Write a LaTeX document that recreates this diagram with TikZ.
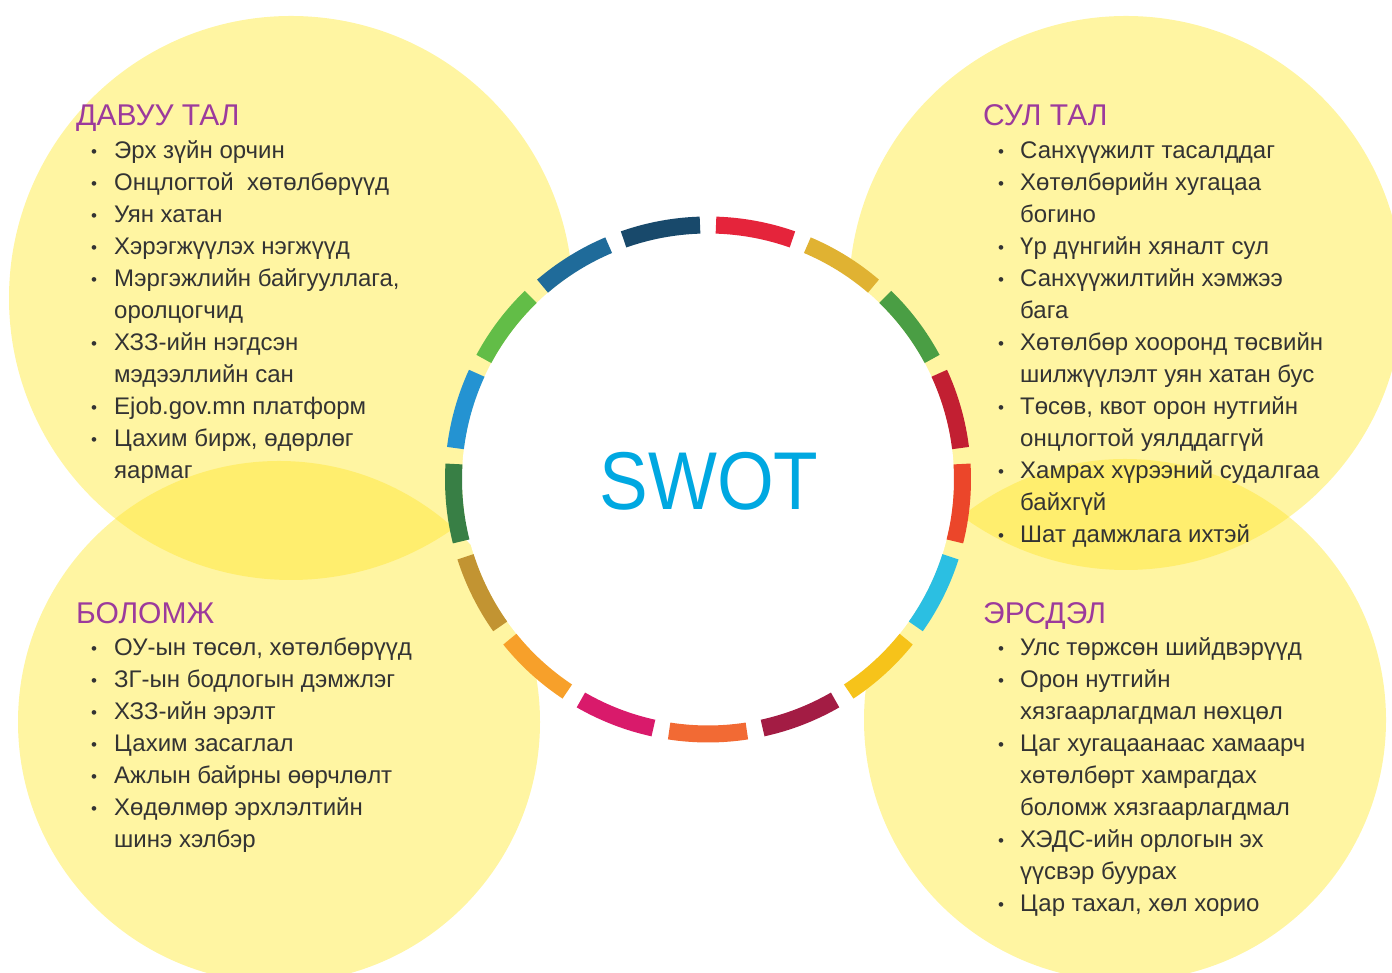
\documentclass[tikz,border=0pt]{standalone}
\usepackage{fontspec}
\usepackage{graphicx}
\setmainfont{Liberation Sans}
\definecolor{yel}{HTML}{FFF5A2}
\definecolor{yeldark}{HTML}{FFEE6E}
\definecolor{txtc}{HTML}{333333}
\definecolor{headc}{HTML}{9C3A9C}
\definecolor{swotc}{HTML}{00A8E1}
\definecolor{sdg1}{HTML}{E5243B}
\definecolor{sdg2}{HTML}{E0B232}
\definecolor{sdg3}{HTML}{4A9E44}
\definecolor{sdg4}{HTML}{C21F32}
\definecolor{sdg5}{HTML}{EB462A}
\definecolor{sdg6}{HTML}{2BBFE2}
\definecolor{sdg7}{HTML}{F6C31A}
\definecolor{sdg8}{HTML}{A31C44}
\definecolor{sdg9}{HTML}{F26A34}
\definecolor{sdg10}{HTML}{D91A6B}
\definecolor{sdg11}{HTML}{F7A02A}
\definecolor{sdg12}{HTML}{C29432}
\definecolor{sdg13}{HTML}{387F45}
\definecolor{sdg14}{HTML}{2493D2}
\definecolor{sdg15}{HTML}{62BD47}
\definecolor{sdg16}{HTML}{1F6B9A}
\definecolor{sdg17}{HTML}{18496B}
\begin{document}
\begin{tikzpicture}[x=1pt,y=1pt,
  head/.style={anchor=base west, inner sep=0pt, text=headc, font=\fontsize{30}{30}\selectfont},
  itemtxt/.style={anchor=base west, inner sep=0pt, text=txtc, font=\fontsize{24}{24}\selectfont},
  bul/.style={anchor=base, inner sep=0pt, text=txtc, font=\fontsize{17}{17}\selectfont},
  segment/.style={line width=17pt}
]
\useasboundingbox (0,0) rectangle (1392,973);
\coordinate (tl) at (291,675);
\coordinate (bl) at (279,251);
\coordinate (tr) at (1126,680);
\coordinate (br) at (1125,253);
\coordinate (c) at (708,493.5);
% circles
\fill[yel] (tl) circle[radius=282pt];
\fill[yel] (bl) circle[radius=261pt];
\fill[yel] (tr) circle[radius=277pt];
\fill[yel] (br) circle[radius=261pt];
\begin{scope}
  \clip (tl) circle[radius=282pt];
  \fill[yeldark] (bl) circle[radius=261pt];
\end{scope}
\begin{scope}
  \clip (tr) circle[radius=277pt];
  \fill[yeldark] (br) circle[radius=261pt];
\end{scope}
% white disc
\fill[white] (c) circle[radius=246pt];
% ring
\foreach \i in {1,...,17}{
  \pgfmathsetmacro\aa{90-(\i-1)*360/17-1.8}
  \pgfmathsetmacro\ab{90-\i*360/17+1.8}
  \draw[segment, draw=sdg\i] ([shift={(c)}]\aa:254.5pt) arc[start angle=\aa, end angle=\ab, radius=254.5pt];
}
\node[text=swotc, font=\fontsize{82}{82}\selectfont, inner sep=0pt] (swot) at (709,492) {\scalebox{0.89}[1]{SWOT}};
% headings
\node[head] (hS) at (76,847) {ДАВУУ ТАЛ};
\node[head] (hW) at (983,847) {СУЛ ТАЛ};
\node[head] (hO) at (76,349) {БОЛОМЖ};
\node[head] (hT) at (983,349) {ЭРСДЭЛ};
% strengths
\node[bul] (sb1) at (94,815) {•}; \node[itemtxt] (s1) at (114,814) {Эрх зүйн орчин};
\node[bul] (sb2) at (94,783) {•}; \node[itemtxt] (s2) at (114,782) {Онцлогтой~ хөтөлбөрүүд};
\node[bul] (sb3) at (94,751) {•}; \node[itemtxt] (s3) at (114,750) {Уян хатан};
\node[bul] (sb4) at (94,719) {•}; \node[itemtxt] (s4) at (114,718) {Хэрэгжүүлэх нэгжүүд};
\node[bul] (sb5) at (94,687) {•}; \node[itemtxt] (s5) at (114,686) {Мэргэжлийн байгууллага,};
\node[itemtxt] (s6) at (114,654) {оролцогчид};
\node[bul] (sb7) at (94,623) {•}; \node[itemtxt] (s7) at (114,622) {ХЗЗ-ийн нэгдсэн};
\node[itemtxt] (s8) at (114,590) {мэдээллийн сан};
\node[bul] (sb9) at (94,559) {•}; \node[itemtxt] (s9) at (114,558) {Ejob.gov.mn платформ};
\node[bul] (sb10) at (94,527) {•}; \node[itemtxt] (s10) at (114,526) {Цахим бирж, өдөрлөг};
\node[itemtxt] (s11) at (114,494) {яармаг};
% weaknesses
\node[bul] (wb1) at (1001,815) {•}; \node[itemtxt] (w1) at (1020,814) {Санхүүжилт тасалддаг};
\node[bul] (wb2) at (1001,783) {•}; \node[itemtxt] (w2) at (1020,782) {Хөтөлбөрийн хугацаа};
\node[itemtxt] (w3) at (1020,750) {богино};
\node[bul] (wb4) at (1001,719) {•}; \node[itemtxt] (w4) at (1020,718) {Үр дүнгийн хяналт сул};
\node[bul] (wb5) at (1001,687) {•}; \node[itemtxt] (w5) at (1020,686) {Санхүүжилтийн хэмжээ};
\node[itemtxt] (w6) at (1020,654) {бага};
\node[bul] (wb7) at (1001,623) {•}; \node[itemtxt] (w7) at (1020,622) {Хөтөлбөр хооронд төсвийн};
\node[itemtxt] (w8) at (1020,590) {шилжүүлэлт уян хатан бус};
\node[bul] (wb9) at (1001,559) {•}; \node[itemtxt] (w9) at (1020,558) {Төсөв, квот орон нутгийн};
\node[itemtxt] (w10) at (1020,526) {онцлогтой уялддаггүй};
\node[bul] (wb11) at (1001,495) {•}; \node[itemtxt] (w11) at (1020,494) {Хамрах хүрээний судалгаа};
\node[itemtxt] (w12) at (1020,462) {байхгүй};
\node[bul] (wb13) at (1001,431) {•}; \node[itemtxt] (w13) at (1020,430) {Шат дамжлага ихтэй};
% opportunities
\node[bul] (ob1) at (94,318) {•}; \node[itemtxt] (o1) at (114,317) {ОУ-ын төсөл, хөтөлбөрүүд};
\node[bul] (ob2) at (94,286) {•}; \node[itemtxt] (o2) at (114,285) {ЗГ-ын бодлогын дэмжлэг};
\node[bul] (ob3) at (94,254) {•}; \node[itemtxt] (o3) at (114,253) {ХЗЗ-ийн эрэлт};
\node[bul] (ob4) at (94,222) {•}; \node[itemtxt] (o4) at (114,221) {Цахим засаглал};
\node[bul] (ob5) at (94,190) {•}; \node[itemtxt] (o5) at (114,189) {Ажлын байрны өөрчлөлт};
\node[bul] (ob6) at (94,158) {•}; \node[itemtxt] (o6) at (114,157) {Хөдөлмөр эрхлэлтийн};
\node[itemtxt] (o7) at (114,125) {шинэ хэлбэр};
% threats
\node[bul] (tb1) at (1001,318) {•}; \node[itemtxt] (t1) at (1020,317) {Улс төржсөн шийдвэрүүд};
\node[bul] (tb2) at (1001,286) {•}; \node[itemtxt] (t2) at (1020,285) {Орон нутгийн};
\node[itemtxt] (t3) at (1020,253) {хязгаарлагдмал нөхцөл};
\node[bul] (tb4) at (1001,222) {•}; \node[itemtxt] (t4) at (1020,221) {Цаг хугацаанаас хамаарч};
\node[itemtxt] (t5) at (1020,189) {хөтөлбөрт хамрагдах};
\node[itemtxt] (t6) at (1020,157) {боломж хязгаарлагдмал};
\node[bul] (tb7) at (1001,126) {•}; \node[itemtxt] (t7) at (1020,125) {ХЭДС-ийн орлогын эх};
\node[itemtxt] (t8) at (1020,93) {үүсвэр буурах};
\node[bul] (tb9) at (1001,62) {•}; \node[itemtxt] (t9) at (1020,61) {Цар тахал, хөл хорио};
\end{tikzpicture}
\end{document}
